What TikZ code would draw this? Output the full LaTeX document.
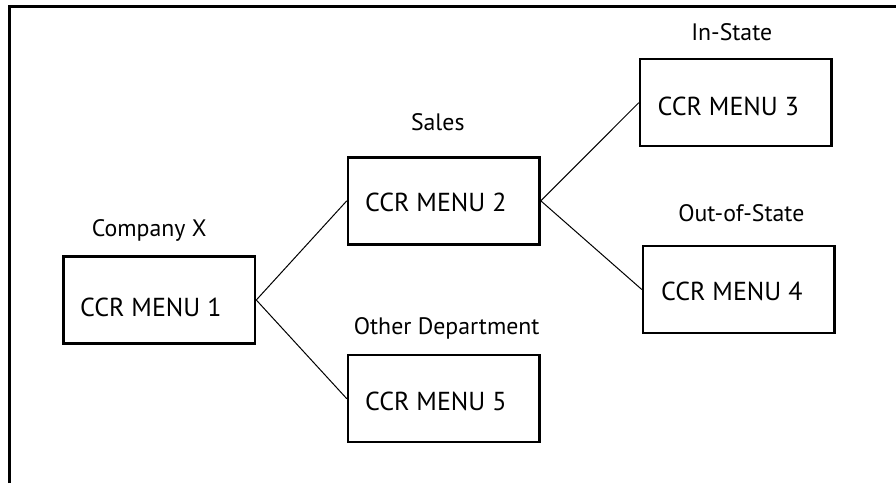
\documentclass[tikz,border=0pt]{standalone}
\usepackage{fontspec}
\setmainfont{PT Sans}
\begin{document}
\begin{tikzpicture}[x=1pt,y=-1pt,
  menubox/.style={draw=black, line width=2.5pt, minimum width=191.5pt, minimum height=87pt, inner sep=0pt},
  menutext/.style={anchor=base, inner sep=0pt, font=\fontsize{26}{30}\selectfont},
  labeltext/.style={anchor=base, inner sep=0pt, font=\fontsize{23.8}{28}\selectfont},
  link/.style={draw=black, line width=1pt}]
\useasboundingbox (0,0) rectangle (896,483);
\draw[line width=3pt] (9.5,483) -- (9.5,6.5) -- (896,6.5);
% boxes
\node[menubox] (m1) at (159.3,300) {};
\node[menubox] (m2) at (443.8,200.8) {};
\node[menubox] (m3) at (735.8,102.7) {};
\node[menubox] (m4) at (738.8,289.5) {};
\node[menubox] (m5) at (443.8,398.7) {};
% box texts
\node[menutext] (t1) at (150.8,316) {CCR MENU 1};
\node[menutext] (t2) at (435.8,211) {CCR MENU 2};
\node[menutext] (t3) at (728.3,115) {CCR MENU 3};
\node[menutext] (t4) at (731.8,300) {CCR MENU 4};
\node[menutext] (t5) at (435.8,410) {CCR MENU 5};
% labels
\node[labeltext] (l1) at (149.2,236.5) {Company X};
\node[labeltext] (l2) at (437.8,130.7) {Sales};
\node[labeltext] (l3) at (731.7,40) {In-State};
\node[labeltext] (l4) at (741.3,221.7) {Out-of-State};
\node[labeltext] (l5) at (446.7,334) {Other Department};
% connectors
\draw[link] (m1.east) -- (m2.west);
\draw[link] (m1.east) -- (m5.west);
\draw[link] (m2.east) -- (m3.west);
\draw[link] (m2.east) -- (m4.west);
\end{tikzpicture}
\end{document}
